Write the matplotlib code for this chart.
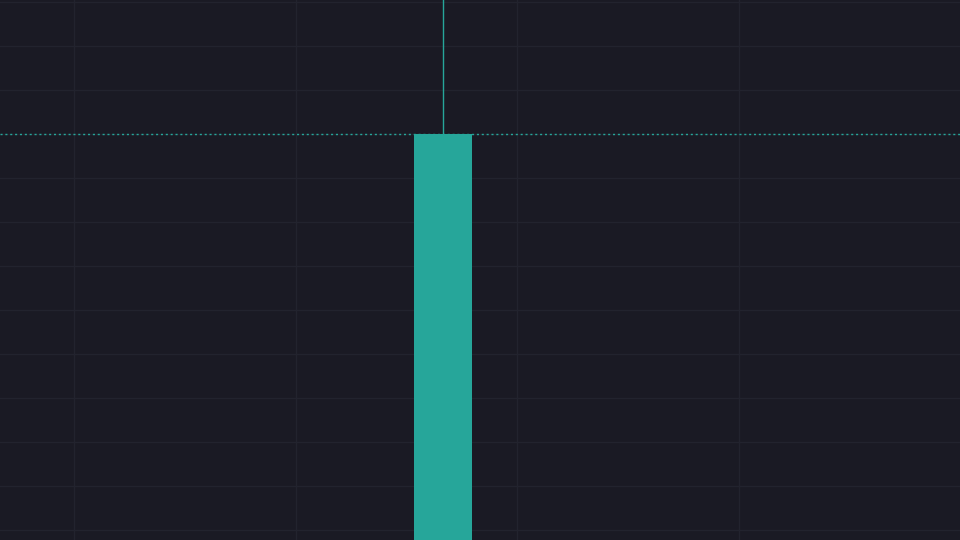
import matplotlib
matplotlib.use("Agg")
import matplotlib.pyplot as plt
from matplotlib.patches import Rectangle

# Data (single zoomed-in candle)
candle_x = [0.0]
opens = [-60.0]
closes = [406.5]
highs = [600.0]
lows = [-80.0]
last_price = 406.5

grid_y = [538, 494, 450, 406, 362, 318, 274, 230, 186, 142, 98, 54, 10]
grid_x = [-369, -147, 74, 296]

bg = "#1a1a24"
up = "#26a69a"

fig = plt.figure(figsize=(9.6, 5.4), dpi=100, facecolor=bg)
ax = fig.add_axes([0, 0, 1, 1])
ax.set_facecolor(bg)
ax.set_xlim(-443, 517)
ax.set_ylim(0, 540)

for gy in grid_y:
    ax.axhline(gy, color="#22232e", lw=1.0, zorder=0)
for gx in grid_x:
    ax.axvline(gx, color="#22232e", lw=1.0, zorder=0)

body_w = 58
for x, o, c, h, l in zip(candle_x, opens, closes, highs, lows):
    color = up if c >= o else "#ef5350"
    ax.plot([x, x], [l, h], color=color, lw=1.0, zorder=2)
    ax.add_patch(Rectangle((x - body_w / 2, min(o, c)), body_w, abs(c - o),
                           facecolor=color, edgecolor="none", zorder=3))

ax.axhline(last_price, color=up, lw=1.0, ls=(0, (1.5, 2)), zorder=1)

ax.set_axis_off()
fig.savefig("out.png", dpi=100, facecolor=bg)
